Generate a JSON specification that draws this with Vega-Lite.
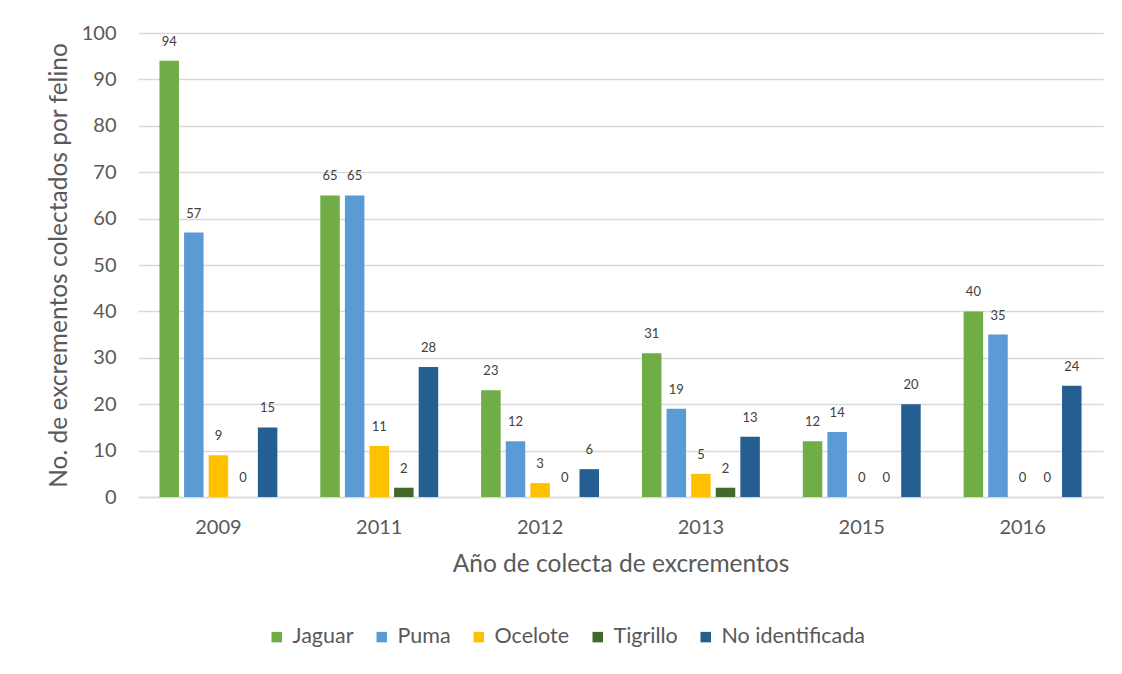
{
  "$schema": "https://vega.github.io/schema/vega-lite/v6.json",
  "width": 965,
  "height": 464,
  "autosize": {"type": "none"},
  "padding": {"left": 138, "top": 33, "right": 19, "bottom": 177},
  "background": "white",
  "config": {
    "view": {"stroke": null},
    "font": "Lato",
    "axis": {"labelFont": "Lato", "titleFont": "Lato"}
  },
  "data": {
    "values": [
      {"year": "2009", "species": "Jaguar", "n": 94},
      {"year": "2009", "species": "Puma", "n": 57},
      {"year": "2009", "species": "Ocelote", "n": 9},
      {"year": "2009", "species": "Tigrillo", "n": 0},
      {"year": "2009", "species": "No identificada", "n": 15},
      {"year": "2011", "species": "Jaguar", "n": 65},
      {"year": "2011", "species": "Puma", "n": 65},
      {"year": "2011", "species": "Ocelote", "n": 11},
      {"year": "2011", "species": "Tigrillo", "n": 2},
      {"year": "2011", "species": "No identificada", "n": 28},
      {"year": "2012", "species": "Jaguar", "n": 23},
      {"year": "2012", "species": "Puma", "n": 12},
      {"year": "2012", "species": "Ocelote", "n": 3},
      {"year": "2012", "species": "Tigrillo", "n": 0},
      {"year": "2012", "species": "No identificada", "n": 6},
      {"year": "2013", "species": "Jaguar", "n": 31},
      {"year": "2013", "species": "Puma", "n": 19},
      {"year": "2013", "species": "Ocelote", "n": 5},
      {"year": "2013", "species": "Tigrillo", "n": 2},
      {"year": "2013", "species": "No identificada", "n": 13},
      {"year": "2015", "species": "Jaguar", "n": 12},
      {"year": "2015", "species": "Puma", "n": 14},
      {"year": "2015", "species": "Ocelote", "n": 0},
      {"year": "2015", "species": "Tigrillo", "n": 0},
      {"year": "2015", "species": "No identificada", "n": 20},
      {"year": "2016", "species": "Jaguar", "n": 40},
      {"year": "2016", "species": "Puma", "n": 35},
      {"year": "2016", "species": "Ocelote", "n": 0},
      {"year": "2016", "species": "Tigrillo", "n": 0},
      {"year": "2016", "species": "No identificada", "n": 24}
    ]
  },
  "encoding": {
    "x": {
      "field": "year", "type": "nominal",
      "scale": {"paddingInner": 0, "paddingOuter": 0},
      "axis": {
        "title": "Año de colecta de excrementos",
        "labelAngle": 0, "labelFontSize": 20, "labelColor": "#595959", "labelPadding": 20,
        "ticks": false, "domainColor": "#D9D9D9", "domainWidth": 1.5,
        "titleFontSize": 24.5, "titleFontWeight": "normal", "titleColor": "#595959", "titlePadding": 15
      }
    },
    "xOffset": {
      "field": "species", "type": "nominal",
      "sort": ["Jaguar", "Puma", "Ocelote", "Tigrillo", "No identificada"],
      "scale": {"paddingInner": 0.207, "paddingOuter": 0.873}
    },
    "y": {
      "field": "n", "type": "quantitative",
      "scale": {"domain": [0, 100], "nice": false},
      "axis": {
        "title": "No. de excrementos colectados por felino",
        "values": [0, 10, 20, 30, 40, 50, 60, 70, 80, 90, 100],
        "labelFontSize": 20, "labelColor": "#595959", "labelPadding": 22,
        "ticks": false, "domain": false,
        "gridColor": "#D9D9D9", "gridWidth": 1.5,
        "titleFontSize": 24.5, "titleFontWeight": "normal", "titleColor": "#595959", "titlePadding": 10
      }
    }
  },
  "layer": [
    {
      "mark": {"type": "bar"},
      "encoding": {
        "color": {
          "field": "species", "type": "nominal",
          "sort": ["Jaguar", "Puma", "Ocelote", "Tigrillo", "No identificada"],
          "scale": {
            "domain": ["Jaguar", "Puma", "Ocelote", "Tigrillo", "No identificada"],
            "range": ["#70AD47", "#5B9BD5", "#FFC000", "#43682B", "#255E91"]
          },
          "legend": {
            "title": null, "orient": "none", "direction": "horizontal", "columns": 5,
            "legendX": 128, "legendY": 593,
            "symbolType": "square", "symbolSize": 110, "symbolStrokeWidth": 0,
            "labelFontSize": 21.5, "labelColor": "#595959", "labelOffset": 5,
            "columnPadding": 17
          }
        }
      }
    },
    {
      "mark": {"type": "text", "baseline": "bottom", "dy": -12, "fontSize": 13, "color": "#404040"},
      "encoding": {
        "text": {"field": "n", "type": "quantitative"}
      }
    }
  ]
}
